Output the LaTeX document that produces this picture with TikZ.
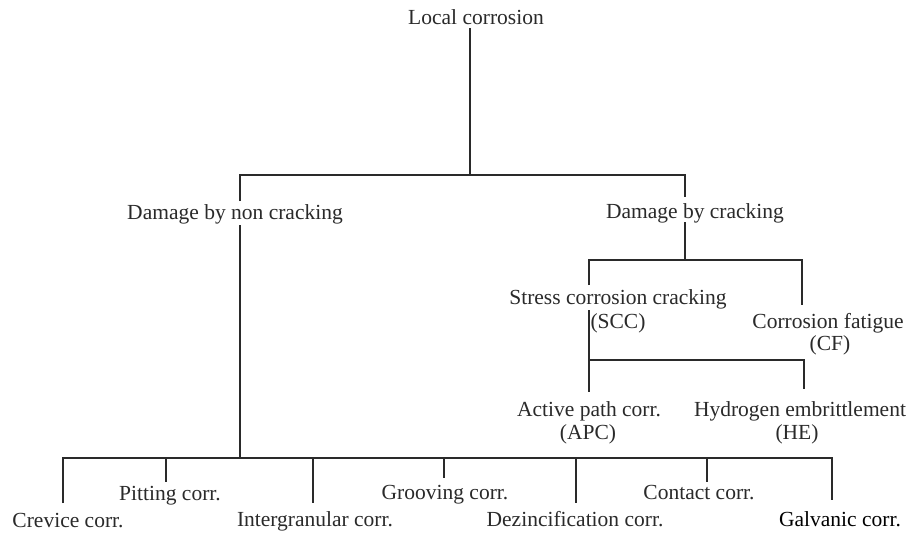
\documentclass[tikz,border=0pt]{standalone}
\usepackage{fontspec}
\setmainfont{Liberation Serif}
\definecolor{ink}{HTML}{2A2A2A}
\begin{document}
\begin{tikzpicture}[x=1pt,y=-1pt,
  lbl/.style={anchor=base,inner sep=0pt,text=ink,font=\fontsize{21.5}{24}\selectfont},
  ln/.style={draw=ink,line width=1.4pt}]
\useasboundingbox[fill=white] (0,0) rectangle (911,533);
% labels
\node[lbl] (lc) at (476,24) {Local corrosion};
\node[lbl] (dnc) at (235,219) {Damage by non cracking};
\node[lbl] (dc) at (695,218) {Damage by cracking};
\node[lbl] (scc) at (618,304) {Stress corrosion cracking};
\node[lbl] (scca) at (618,328) {(SCC)};
\node[lbl] (cf) at (828,328) {Corrosion fatigue};
\node[lbl] (cfa) at (830,350) {(CF)};
\node[lbl] (apc) at (589,416) {Active path corr.};
\node[lbl] (apca) at (588,439) {(APC)};
\node[lbl] (he) at (800,416) {Hydrogen embrittlement};
\node[lbl] (hea) at (797,439) {(HE)};
\node[lbl] (crev) at (68,527) {Crevice corr.};
\node[lbl] (pit) at (170,500) {Pitting corr.};
\node[lbl] (igc) at (315,526) {Intergranular corr.};
\node[lbl] (groo) at (445,499) {Grooving corr.};
\node[lbl] (dez) at (575,526) {Dezincification corr.};
\node[lbl] (cont) at (699,499) {Contact corr.};
\node[lbl,text=black] (galv) at (840,526) {Galvanic corr.};
% junction coordinates
\coordinate (t0) at (470,28);
\coordinate (j0) at (470,175);
\coordinate (jl) at (240,175);
\coordinate (jr) at (685,175);
\coordinate (dncu) at (240,201);
\coordinate (dncd) at (240,225);
\coordinate (dcu) at (685,197);
\coordinate (dcd) at (685,222);
\coordinate (k0) at (685,260);
\coordinate (kl) at (589,260);
\coordinate (kr) at (802,260);
\coordinate (sccu) at (589,285);
\coordinate (cfu) at (802,305);
\coordinate (sccd) at (589,310);
\coordinate (m0) at (589,360);
\coordinate (mr) at (804,360);
\coordinate (apcu) at (589,392);
\coordinate (heu) at (804,389);
\coordinate (b0) at (240,458);
\coordinate (bl) at (63,458);
\coordinate (br) at (832,458);
\coordinate (crevu) at (63,503);
\coordinate (pitj) at (166,458);
\coordinate (pitu) at (166,482);
\coordinate (igcj) at (313,458);
\coordinate (igcu) at (313,503);
\coordinate (grooj) at (444,458);
\coordinate (groou) at (444,478);
\coordinate (dezj) at (576,458);
\coordinate (dezu) at (576,503);
\coordinate (contj) at (707,458);
\coordinate (contu) at (707,482);
\coordinate (galvu) at (832,500);
% connectors
\draw[ln] (t0) -- (j0);
\draw[ln] (dncu) -- (jl) -- (jr) -- (dcu);
\draw[ln] (dncd) -- (b0);
\draw[ln] (dcd) -- (k0);
\draw[ln] (sccu) -- (kl) -- (kr) -- (cfu);
\draw[ln] (sccd) -- (m0) -- (mr) -- (heu);
\draw[ln] (m0) -- (apcu);
\draw[ln] (crevu) -- (bl) -- (br) -- (galvu);
\draw[ln] (pitj) -- (pitu);
\draw[ln] (igcj) -- (igcu);
\draw[ln] (grooj) -- (groou);
\draw[ln] (dezj) -- (dezu);
\draw[ln] (contj) -- (contu);
\end{tikzpicture}
\end{document}
